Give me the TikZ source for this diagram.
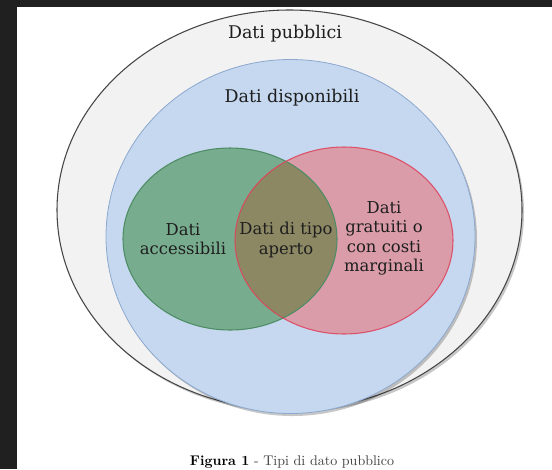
\documentclass[tikz,border=0pt]{standalone}
\usepackage{fontspec}
\setmainfont{DejaVu Serif}
\newfontfamily\capfont{Latin Modern Roman}
\definecolor{frame}{RGB}{32,32,32}
\definecolor{pubfill}{RGB}{242,242,242}
\definecolor{publine}{RGB}{70,70,70}
\definecolor{blufill}{RGB}{197,216,240}
\definecolor{bluline}{RGB}{140,168,206}
\definecolor{grnfill}{RGB}{120,172,142}
\definecolor{grnline}{RGB}{78,140,100}
\definecolor{redfill}{RGB}{218,156,168}
\definecolor{redline}{RGB}{222,64,90}
\definecolor{ovlfill}{RGB}{140,136,100}
\definecolor{txt}{RGB}{30,30,30}
\tikzset{
  title/.style={font=\fontsize{13.1}{15}\selectfont, text=txt, inner sep=0pt, anchor=base},
  venntext/.style={font=\fontsize{12.3}{14.6}\selectfont, text=txt, inner sep=0pt, align=center},
  shade/.style={fill=black, opacity=0.22},
}
\begin{document}
\begin{tikzpicture}[x=0.75pt,y=-0.75pt]
\useasboundingbox (0,0) rectangle (552,469);
\fill[white] (0,0) rectangle (552,469);
\fill[frame] (0,0) rectangle (17,469);
\fill[frame] (0,0) rectangle (552,7);
% outer ellipse: Dati pubblici
\fill[shade] (291.5,212.5) ellipse [x radius=232.5, y radius=200];
\fill[pubfill] (289.5,210) ellipse [x radius=232.5, y radius=200];
\draw[publine, line width=0.8pt] (289.5,210) ellipse [x radius=232.5, y radius=200];
% blue: Dati disponibili
\fill[shade] (292.5,239) ellipse [x radius=184.5, y radius=177];
\fill[blufill] (290.5,236.5) ellipse [x radius=184.5, y radius=177];
\draw[bluline, line width=0.6pt] (290.5,236.5) ellipse [x radius=184.5, y radius=177];
% green and red
\fill[grnfill] (230,239) ellipse [x radius=107, y radius=91];
\fill[redfill] (344,240.5) ellipse [x radius=109, y radius=93.5];
\begin{scope}
  \clip (230,239) ellipse [x radius=107, y radius=91];
  \fill[ovlfill] (344,240.5) ellipse [x radius=109, y radius=93.5];
\end{scope}
\draw[grnline, line width=0.8pt] (230,239) ellipse [x radius=107, y radius=91];
\draw[redline, line width=0.8pt, opacity=0.85] (344,240.5) ellipse [x radius=109, y radius=93.5];
% texts
\node[title] (pub) at (285,38) {Dati pubblici};
\node[title] (disp) at (292,102) {Dati disponibili};
\node[venntext] (acc) at (183,239) {Dati\\accessibili};
\node[venntext] (ape) at (286,240) {Dati di tipo\\aperto};
\node[venntext] (gra) at (384,238.5) {Dati\\gratuiti o\\con costi\\marginali};
\node[anchor=base, inner sep=0pt, text=black!75] (cap) at (292,465)
  {\capfont\fontsize{10.5}{12}\selectfont\textbf{\color{black}Figura 1} - Tipi di dato pubblico};
\end{tikzpicture}
\end{document}
